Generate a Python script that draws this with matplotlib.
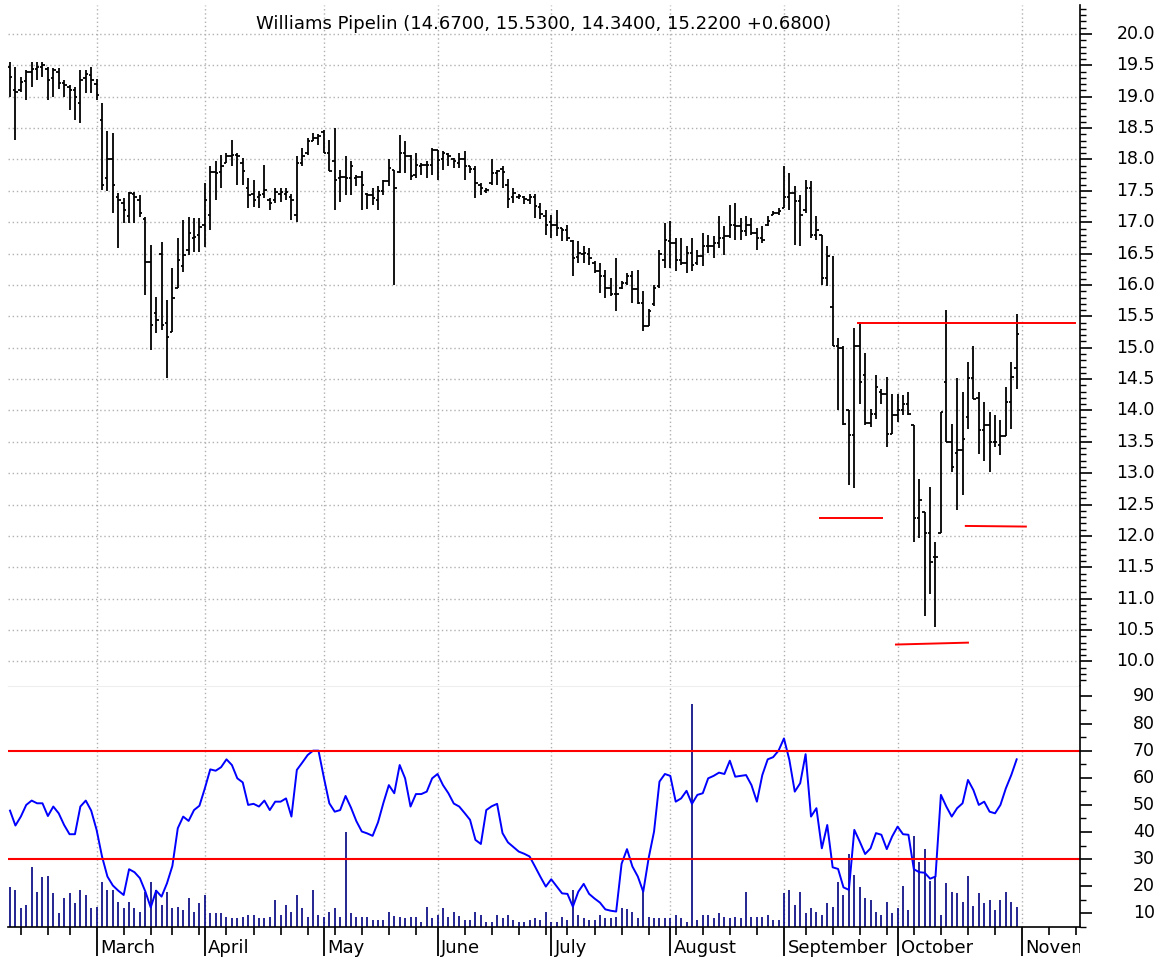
import matplotlib
matplotlib.use("Agg")
import matplotlib.pyplot as plt
import numpy as np
import pandas as pd
from matplotlib.transforms import Bbox, TransformedBbox

plt.rcParams['font.family'] = ['DejaVu Sans']

# trading days from Feb 7 2008; November days are only there for the axis
holidays = ['2008-02-18', '2008-03-21', '2008-05-26', '2008-07-04', '2008-09-01', '2008-11-27']
days = pd.bdate_range('2008-02-07', '2008-11-28')
days = days[~days.isin(pd.to_datetime(holidays))]

# daily bars, Feb 7 - Oct 31 2008
opens = [
    19.47, 19.10, 19.10, 19.25, 19.40, 19.45, 19.47, 19.45, 19.30, 19.40, 19.22, 19.15, 19.10, 18.90, 19.30, 19.35,
    19.20, 18.63, 17.70, 18.00, 17.40, 17.30, 17.10, 17.45, 17.35, 17.05, 16.37, 15.55, 16.50, 15.40, 15.25, 15.95, 16.30, 16.55, 16.75, 16.80,
    16.95, 17.12, 17.80, 17.80, 17.95, 18.05, 18.07, 17.95, 17.55, 17.45, 17.40, 17.45, 17.35, 17.35, 17.45, 17.45, 17.40, 17.12, 17.95, 18.10, 18.30, 18.35,
    18.44, 18.10, 17.97, 17.70, 17.72, 17.70, 17.70, 17.72, 17.45, 17.44, 17.35, 17.50, 17.65, 17.84, 17.80, 18.10, 18.05, 17.75, 17.90, 17.92, 17.92,
    18.15, 18.00, 18.08, 18.00, 17.95, 18.00, 17.89, 17.85, 17.60, 17.50, 17.62, 17.78, 17.85, 17.60, 17.40, 17.40, 17.40, 17.35, 17.40, 17.25, 17.10,
    17.00, 16.96, 16.91, 16.88, 16.70, 16.45, 16.50, 16.50, 16.35, 16.22, 16.14, 15.95, 15.85, 15.95, 16.03, 16.14, 15.93, 15.71, 15.34, 15.69, 15.98, 16.40,
    16.70, 16.67, 16.40, 16.35, 16.51, 16.35, 16.46, 16.62, 16.62, 16.67, 16.75, 16.78, 16.96, 16.94, 16.86, 16.96, 16.83, 16.75, 16.95, 17.12, 17.15,
    17.23, 17.41, 17.47, 17.34, 17.20, 17.55, 16.80, 16.80, 16.11, 15.65, 15.02, 14.99, 14.00, 13.61, 15.02, 14.56, 13.80, 13.95, 14.30, 14.27, 13.63,
    13.93, 14.00, 14.10, 13.77, 12.28, 12.38, 12.04, 11.66, 12.04, 14.46, 13.50, 13.33, 13.37, 13.90, 14.51, 14.20, 13.69, 13.77, 13.50, 13.45, 13.60, 14.14, 14.67,
]
highs = [
    19.56, 19.48, 19.32, 19.43, 19.56, 19.55, 19.56, 19.47, 19.46, 19.46, 19.27, 19.19, 19.16, 19.43, 19.43, 19.47,
    19.29, 18.90, 18.45, 18.42, 17.46, 17.38, 17.48, 17.48, 17.43, 17.08, 16.64, 15.81, 16.69, 15.76, 16.27, 16.75, 17.04, 17.08, 17.06, 17.06,
    17.62, 17.89, 17.97, 18.07, 18.10, 18.31, 18.10, 18.02, 17.70, 17.68, 17.49, 17.91, 17.38, 17.54, 17.54, 17.54, 17.45, 18.05, 18.18, 18.34, 18.42, 18.40,
    18.47, 18.31, 18.50, 17.84, 18.05, 17.97, 17.76, 17.81, 17.46, 17.54, 17.57, 17.68, 18.00, 17.84, 18.39, 18.29, 18.07, 18.10, 17.94, 17.97, 18.18,
    18.15, 18.13, 18.10, 18.02, 18.10, 18.13, 17.89, 17.89, 17.62, 17.54, 18.00, 17.84, 17.90, 17.69, 17.55, 17.45, 17.42, 17.45, 17.45, 17.31, 17.20,
    17.12, 17.20, 16.91, 16.96, 16.72, 16.70, 16.62, 16.59, 16.38, 16.35, 16.24, 16.11, 16.43, 16.06, 16.19, 16.22, 16.24, 15.90, 15.61, 16.00, 16.56, 16.98,
    17.02, 16.75, 16.75, 16.62, 16.75, 16.56, 16.83, 16.80, 16.78, 17.10, 16.94, 17.28, 17.31, 17.07, 17.10, 17.07, 16.91, 16.94, 17.10, 17.18, 17.23,
    17.89, 17.79, 17.57, 17.44, 17.68, 17.65, 17.10, 16.80, 16.62, 16.46, 15.15, 15.02, 14.00, 15.32, 15.41, 14.91, 14.03, 14.56, 14.35, 14.54, 14.27,
    14.27, 14.24, 14.30, 13.77, 12.91, 12.38, 12.78, 11.90, 13.98, 15.60, 13.79, 14.51, 14.30, 14.78, 15.02, 14.30, 14.14, 13.98, 13.93, 13.85, 14.38, 14.78, 15.53,
]
lows = [
    19.00, 18.31, 19.08, 18.95, 19.16, 19.27, 19.32, 18.95, 19.00, 19.13, 19.00, 18.79, 18.63, 18.58, 19.06, 19.06,
    18.95, 17.51, 17.50, 17.14, 16.59, 16.99, 16.99, 16.99, 17.08, 15.84, 14.96, 15.23, 15.28, 14.52, 15.25, 15.95, 16.21, 16.48, 16.53, 16.53,
    16.60, 16.88, 17.36, 17.54, 17.94, 17.89, 17.60, 17.60, 17.22, 17.25, 17.22, 17.38, 17.20, 17.30, 17.33, 17.35, 17.04, 17.01, 17.89, 18.07, 18.29, 18.23,
    18.10, 17.81, 17.20, 17.33, 17.44, 17.44, 17.57, 17.20, 17.21, 17.28, 17.20, 17.44, 17.57, 16.00, 17.78, 17.78, 17.68, 17.70, 17.76, 17.70, 17.76,
    17.68, 17.84, 17.89, 17.86, 17.86, 17.68, 17.78, 17.38, 17.44, 17.46, 17.60, 17.60, 17.55, 17.23, 17.31, 17.37, 17.29, 17.29, 17.07, 17.05, 16.80,
    16.75, 16.78, 16.70, 16.70, 16.14, 16.35, 16.35, 16.32, 16.19, 15.87, 15.79, 15.82, 15.58, 15.93, 16.00, 15.71, 15.69, 15.26, 15.34, 15.66, 15.95, 16.27,
    16.27, 16.22, 16.32, 16.19, 16.22, 16.32, 16.30, 16.51, 16.43, 16.59, 16.48, 16.75, 16.72, 16.72, 16.78, 16.80, 16.56, 16.67, 16.94, 17.12, 17.12,
    17.23, 17.20, 16.64, 16.62, 17.15, 16.75, 16.72, 16.00, 15.98, 15.02, 14.00, 13.77, 12.81, 12.76, 14.11, 13.77, 13.74, 13.87, 14.11, 13.42, 13.63,
    13.82, 13.93, 13.93, 11.90, 11.96, 10.73, 11.08, 10.55, 12.04, 13.50, 13.02, 12.41, 12.65, 13.71, 14.19, 13.31, 13.20, 13.02, 13.42, 13.29, 13.60, 13.71, 14.34,
]
closes = [
    19.32, 19.08, 19.24, 19.40, 19.45, 19.47, 19.50, 19.27, 19.42, 19.22, 19.19, 19.11, 19.00, 19.27, 19.37, 19.27,
    19.03, 17.60, 18.00, 17.60, 17.35, 17.19, 17.46, 17.40, 17.14, 16.37, 15.36, 15.44, 15.36, 15.17, 15.79, 16.40, 16.48, 16.83, 16.77, 16.92,
    17.35, 17.80, 17.78, 17.89, 18.05, 18.07, 18.05, 17.81, 17.44, 17.36, 17.44, 17.52, 17.30, 17.48, 17.48, 17.48, 17.36, 17.94, 18.05, 18.30, 18.35, 18.38,
    18.10, 17.82, 17.68, 17.72, 17.70, 17.89, 17.72, 17.60, 17.44, 17.38, 17.49, 17.65, 17.86, 17.54, 18.10, 18.05, 17.73, 17.91, 17.92, 17.92, 18.15,
    17.99, 18.10, 18.05, 17.97, 18.00, 17.89, 17.85, 17.62, 17.55, 17.52, 17.78, 17.81, 17.80, 17.37, 17.47, 17.42, 17.37, 17.40, 17.26, 17.13, 16.96,
    16.96, 16.91, 16.88, 16.75, 16.43, 16.51, 16.51, 16.43, 16.22, 16.14, 15.95, 15.85, 15.85, 16.03, 16.14, 15.93, 15.71, 15.34, 15.58, 15.95, 16.50, 16.72,
    16.67, 16.40, 16.35, 16.51, 16.32, 16.46, 16.62, 16.62, 16.67, 16.75, 16.78, 16.96, 16.94, 16.86, 16.96, 16.83, 16.75, 16.72, 17.02, 17.15, 17.18,
    17.41, 17.47, 17.34, 17.12, 17.55, 16.80, 16.88, 16.11, 16.46, 15.02, 14.99, 13.79, 13.61, 15.02, 14.46, 13.80, 13.95, 14.38, 14.27, 13.63, 13.93,
    14.00, 14.10, 13.95, 12.28, 12.57, 12.04, 11.59, 11.66, 13.98, 13.50, 13.10, 13.37, 13.55, 14.51, 14.19, 13.69, 13.77, 13.50, 13.50, 13.60, 14.14, 14.54, 15.22,
]
rsi = [
    47.9, 42.4, 45.7, 50.0, 51.6, 50.6, 50.6, 45.9, 49.4, 46.9, 42.6, 39.2, 39.2, 49.4, 51.6, 47.9,
    40.8, 31.0, 23.6, 20.3, 18.4, 16.8, 26.3, 25.2, 23.0, 18.1, 12.2, 18.4, 16.2, 21.1, 27.5, 41.4, 45.7, 44.1, 48.1, 49.7,
    56.1, 63.1, 62.6, 63.9, 66.8, 64.7, 59.8, 58.3, 50.0, 50.4, 49.4, 51.6, 48.1, 51.2, 51.2, 52.4, 45.7, 62.9, 65.6, 68.4, 70.0, 70.0,
    60.0, 50.6, 47.5, 48.1, 53.3, 49.0, 44.0, 40.2, 39.5, 38.6, 43.6, 50.8, 57.3, 54.3, 64.7, 59.8, 49.4, 54.0, 54.0, 54.9, 59.8,
    61.4, 57.3, 54.3, 50.5, 49.4, 47.0, 44.5, 37.1, 35.6, 48.1, 49.5, 50.4, 39.6, 36.2, 34.5, 32.8, 32.0, 31.0, 27.3, 23.5, 19.9,
    22.6, 20.0, 17.4, 17.2, 12.5, 18.0, 20.9, 17.2, 15.5, 14.0, 11.5, 11.0, 10.7, 28.3, 33.7, 27.3, 23.6, 18.0, 30.4, 40.2, 58.6, 61.4,
    60.7, 51.2, 52.4, 55.2, 50.4, 53.7, 54.3, 59.8, 60.7, 61.9, 61.4, 66.3, 60.4, 60.7, 61.0, 57.3, 51.2, 61.0, 66.8, 67.6, 70.0,
    74.5, 66.6, 54.9, 58.0, 68.7, 45.7, 48.8, 34.0, 42.6, 27.0, 26.4, 19.6, 18.7, 40.8, 36.5, 31.9, 34.0, 39.6, 39.0, 33.7, 38.4,
    42.0, 39.2, 39.0, 26.3, 25.2, 25.0, 22.8, 23.6, 53.7, 49.4, 45.7, 48.8, 50.6, 59.2, 55.5, 50.0, 51.2, 47.5, 46.9, 50.0, 56.1, 61.0, 66.8,
]
# volume, thousands of shares
volume = [
    161, 148, 75, 88, 239, 141, 199, 205, 135, 55, 115, 135, 95, 148, 128, 75,
    81, 181, 148, 148, 101, 75, 101, 75, 61, 141, 181, 148, 88, 141, 75, 81, 68, 115, 61, 95,
    128, 55, 55, 55, 41, 35, 35, 41, 48, 48, 35, 35, 41, 108, 48, 88, 61, 128, 75, 41, 148, 48,
    41, 61, 75, 41, 381, 55, 41, 41, 41, 28, 28, 28, 61, 44, 41, 35, 41, 41, 21, 81, 35,
    48, 75, 41, 61, 44, 28, 28, 61, 48, 21, 21, 48, 35, 48, 28, 21, 21, 28, 35, 28, 61,
    21, 21, 41, 28, 148, 48, 35, 28, 28, 48, 35, 35, 41, 75, 71, 61, 35, 148, 41, 35, 35, 35,
    35, 48, 35, 21, 891, 28, 48, 48, 35, 55, 41, 35, 41, 35, 141, 41, 41, 41, 48, 28, 28,
    135, 148, 88, 141, 55, 75, 61, 48, 95, 81, 181, 128, 292, 208, 161, 115, 108, 61, 48, 101, 55,
    75, 165, 68, 364, 261, 311, 185, 199, 48, 175, 141, 135, 101, 205, 84, 135, 95, 108, 68, 108, 141, 101, 81,
]

# red support / resistance lines drawn on the chart (bar index, price)
line_x0 = [156.7, 149.7, 163.7, 176.6]
line_x1 = [196.8, 161.1, 177.0, 187.7]
line_y0 = [15.40, 12.29, 10.27, 12.16]
line_y1 = [15.40, 12.29, 10.30, 12.15]

price_ticks = np.arange(10, 20.01, 0.5)
rsi_ticks = np.arange(10, 91, 10)
month_names = ['January', 'February', 'March', 'April', 'May', 'June', 'July',
               'August', 'September', 'October', 'November', 'December']

n = len(closes)
x = np.arange(n)

W, H = 1168, 959
fig = plt.figure(figsize=(W / 100, H / 100), dpi=100)
ax = fig.add_axes([8 / W, 1 - 685 / H, 1072 / W, 680 / H])
axv = fig.add_axes([8 / W, 1 - 927 / H, 1072 / W, 241 / H], sharex=ax)
ax2 = axv.twinx()

grid_kw = dict(color='#b0b0b0', lw=1.0, ls=(0, (1, 2)))


def right_labels(a, ticks, fmt):
    # tick labels right-aligned some way out from the right axis
    for v in ticks:
        a.annotate(fmt.format(v), xy=(1, v), xycoords=('axes fraction', 'data'),
                   xytext=(54, 0), textcoords='offset points', ha='right', va='center',
                   fontsize=12.5, annotation_clip=False)


# --- price bars
ax.vlines(x, lows, highs, color='black', lw=1.3)
ax.hlines(opens, x - 0.45, x, color='black', lw=1.3)
ax.hlines(closes, x, x + 0.45, color='black', lw=1.3)
for a, b, c, d in zip(line_x0, line_x1, line_y0, line_y1):
    ax.plot([a, b], [c, d], color='red', lw=1.4)

ax.set_xlim(-0.37, 197.7)
ax.set_ylim(9.625, 20.462)
ax.yaxis.tick_right()
ax.set_yticks(price_ticks)
ax.set_yticks(np.arange(9.7, 20.45, 0.1), minor=True)
ax.tick_params(axis='y', which='major', length=8.6, width=1.2, labelright=False)
ax.tick_params(axis='y', which='minor', length=4.3, width=1.0)
ax.tick_params(axis='x', which='both', length=0, labelbottom=False)
right_labels(ax, price_ticks, '{:.1f}')
for s in ['left', 'top', 'bottom']:
    ax.spines[s].set_visible(False)
ax.spines['right'].set_linewidth(1.2)
ax.grid(axis='y', which='major', **grid_kw)
ax.grid(axis='x', which='major', **grid_kw)

# --- month / week ticks
month_idx = [i for i in range(1, len(days)) if days[i].month != days[i - 1].month and i < 198]
week_idx = [i for i in range(1, len(days)) if days[i].weekday() < days[i - 1].weekday()
            and i not in month_idx and i < 198]
axv.set_xticks(month_idx)
axv.set_xticks(week_idx, minor=True)
axv.tick_params(axis='x', which='major', length=21, width=1.3, labelbottom=False)
axv.tick_params(axis='x', which='minor', length=6, width=1.2)
axv.grid(axis='x', which='major', **grid_kw)

# --- volume
axv.vlines(x, 0, volume, color='#000080', lw=1.2)
axv.set_ylim(0, 964)
axv.tick_params(axis='y', left=False, labelleft=False)
for s in ['left', 'right']:
    axv.spines[s].set_visible(False)
axv.spines['top'].set_color('#eeeeee')
axv.spines['bottom'].set_linewidth(1.2)

clip = TransformedBbox(Bbox([[0, 0], [1080 / W, 1]]), fig.transFigure)
for i in month_idx:
    t = axv.annotate(month_names[days[i].month - 1], xy=(i, 0), xycoords=('data', 'axes fraction'),
                     xytext=(2.5, -8.5), textcoords='offset points', ha='left', va='top',
                     fontsize=13, annotation_clip=False)
    t.set_clip_box(clip)
    t.set_clip_on(True)

# --- RSI
ax2.plot(x, rsi, color='#0000ff', lw=1.4)
ax2.axhline(70, color='red', lw=1.5)
ax2.axhline(30, color='red', lw=1.5)
ax2.set_ylim(5.06, 93.83)
ax2.set_yticks(rsi_ticks)
ax2.set_yticks(np.arange(5, 93, 5), minor=True)
ax2.tick_params(axis='y', which='major', length=8.6, width=1.2, labelright=False)
ax2.tick_params(axis='y', which='minor', length=4.3, width=1.0)
right_labels(ax2, rsi_ticks, '{:.0f}')
for s in ['left', 'top', 'bottom']:
    ax2.spines[s].set_visible(False)
ax2.spines['right'].set_linewidth(1.2)

sub = 'Williams Pipelin ({:.4f}, {:.4f}, {:.4f}, {:.4f} {:+.4f})'.format(
    opens[-1], highs[-1], lows[-1], closes[-1], closes[-1] - closes[-2])
fig.text(544 / W, 1 - 24 / H, sub, ha='center', va='center', fontsize=13)

fig.savefig('out.png', dpi=100)
